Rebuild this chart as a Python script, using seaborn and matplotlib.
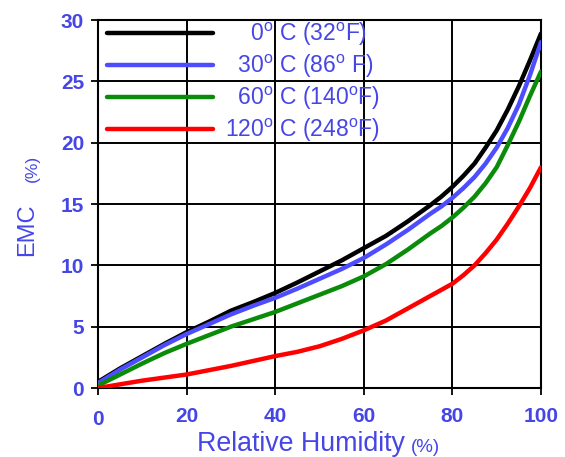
import matplotlib
matplotlib.use("Agg")
import matplotlib.pyplot as plt
import matplotlib.transforms as mtransforms
import seaborn as sns
import pandas as pd

sns.set_style("white")
plt.rcParams['font.family'] = ['Liberation Sans', 'DejaVu Sans']
plt.rcParams['mathtext.fontset'] = 'custom'
plt.rcParams['mathtext.rm'] = 'Liberation Sans'
plt.rcParams['mathtext.it'] = 'Liberation Sans'

rh = [0, 5, 10, 15, 20, 25, 30, 35, 40, 45, 50, 55, 60, 65, 70, 75,
      77.5, 80, 82.5, 85, 87.5, 90, 92.5, 95, 97.5, 100]
emc_0c = [0.5, 1.6, 2.6, 3.6, 4.55, 5.4, 6.3, 7.0, 7.75, 8.6, 9.5, 10.4, 11.4, 12.4, 13.6, 14.9,
          15.6, 16.4, 17.3, 18.3, 19.6, 21.0, 22.7, 24.6, 26.7, 28.9]
emc_30c = [0.4, 1.5, 2.5, 3.5, 4.4, 5.2, 6.0, 6.7, 7.35, 8.1, 8.9, 9.7, 10.6, 11.7, 12.9, 14.2,
           14.8, 15.5, 16.3, 17.2, 18.3, 19.6, 21.2, 23.1, 25.5, 28.2]
emc_60c = [0.2, 1.1, 2.0, 2.85, 3.6, 4.3, 5.0, 5.6, 6.2, 6.9, 7.6, 8.3, 9.1, 10.1, 11.3, 12.6,
           13.2, 13.9, 14.7, 15.6, 16.7, 18.0, 19.8, 21.7, 23.8, 25.8]
emc_120c = [0.0, 0.3, 0.6, 0.85, 1.1, 1.45, 1.8, 2.2, 2.6, 2.95, 3.4, 4.0, 4.7, 5.5, 6.5, 7.5,
            8.0, 8.5, 9.2, 10.0, 11.0, 12.1, 13.4, 14.8, 16.3, 18.0]

labels = [r"$\hspace{1.335}$0$^{\rm o}$ C (32$^{\rm o}$F)", r"$\hspace{0.667}$30$^{\rm o}$ C (86$^{\rm o}$ F)",
          r"$\hspace{0.667}$60$^{\rm o}$ C (140$^{\rm o}$F)", r"120$^{\rm o}$ C (248$^{\rm o}$F)"]
colors = ["#000000", "#4d4dff", "#0a8c0a", "#ff0000"]
xticks = [0, 20, 40, 60, 80, 100]
yticks = [0, 5, 10, 15, 20, 25, 30]

frames = []
for lab, vals in zip(labels, [emc_0c, emc_30c, emc_60c, emc_120c]):
    frames.append(pd.DataFrame({"rh": rh, "emc": vals, "series": lab}))
df = pd.concat(frames, ignore_index=True)

blue = "#4646e6"
fig = plt.figure(figsize=(5.65, 4.57), dpi=100)
ax = fig.add_axes([98/565, 69/457, 443/565, 368/457])

sns.lineplot(data=df, x="rh", y="emc", hue="series", hue_order=labels,
             palette=dict(zip(labels, colors)), linewidth=3.2, ax=ax,
             legend=False, zorder=3)
for ln in ax.get_lines():
    ln.set_solid_joinstyle("round")
    ln.set_solid_capstyle("round")

ax.set_xlim(0, 100)
ax.set_ylim(0, 30)
ax.set_xticks(xticks)
ax.set_yticks(yticks)
ax.grid(True, color="black", linewidth=1.4, zorder=1)
ax.set_axisbelow(True)
for s in ax.spines.values():
    s.set_color("black")
    s.set_linewidth(1.5)
ax.tick_params(axis="both", direction="out", length=5, width=1.3, color="black",
               labelcolor=blue, labelsize=15, bottom=True, left=True)
ax.tick_params(axis="x", pad=9)
ax.tick_params(axis="y", pad=5)
for t in ax.get_xticklabels() + ax.get_yticklabels():
    t.set_fontweight("bold")
# the "0" on the x axis sits a little lower in the reference
xl0 = ax.get_xticklabels()[0]
xl0.set_transform(xl0.get_transform() + mtransforms.ScaledTranslation(0, -3/100, fig.dpi_scale_trans))

ax.set_xlabel("")
ax.set_ylabel("")
fig.text(405 / 565, 13 / 457, "Relative Humidity", color=blue, fontsize=19.3,
         ha="right", va="center")
fig.text(411 / 565, 10 / 457, "(%)", color=blue, fontsize=13.5,
         ha="left", va="center")
fig.text(27 / 565, (457 - 230) / 457, "EMC", color=blue, fontsize=17, rotation=90,
         ha="center", va="center")
fig.text(32 / 565, (457 - 168) / 457, "(%)", color=blue, fontsize=12.5, rotation=90,
         ha="center", va="center")

handles = [plt.Line2D([], [], color=c, linewidth=3.2) for c in colors]
leg = ax.legend(handles, labels, loc="upper left", bbox_to_anchor=(0.018, 1.0),
                frameon=False, fontsize=16.5, handlelength=4.6, handletextpad=0.55,
                labelspacing=0.2, borderpad=0.05, borderaxespad=0.0)
for t in leg.get_texts():
    t.set_color(blue)

fig.savefig("out.png", dpi=100)
